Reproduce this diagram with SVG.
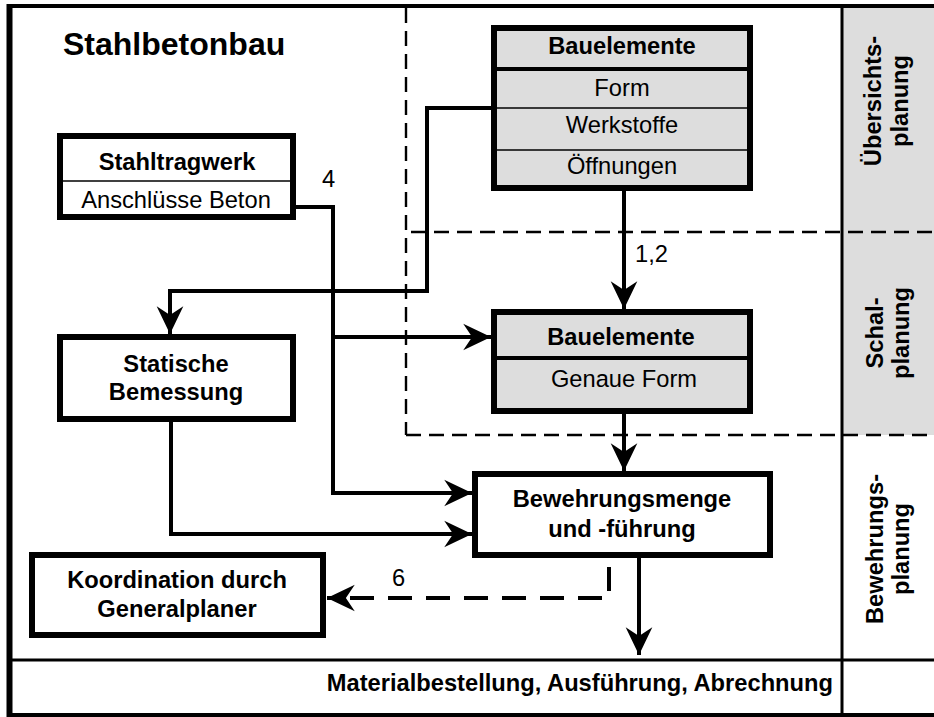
<svg xmlns="http://www.w3.org/2000/svg" width="934" height="717" viewBox="0 0 934 717">
  <defs>
    <marker id="arrow" markerUnits="userSpaceOnUse" markerWidth="30" markerHeight="30" viewBox="-26 -13 27 26" refX="0" refY="0" orient="auto">
      <path d="M0,0 L-25,-12 L-17,0 L-25,12 Z" fill="#000"/>
    </marker>
    <style>
      text { font-family: "Liberation Sans", Arial, sans-serif; font-size: 23.7px; fill: #000; }
      .b { font-weight: bold; }
      .c { text-anchor: middle; }
      .title { font-size: 32px; }
      .box { fill: #fff; stroke: #000; stroke-width: 6; }
      .gbox { fill: #dddddd; stroke: #000; stroke-width: 6; }
      .div-thick { stroke: #000; stroke-width: 4; }
      .div-thin { stroke: #000; stroke-width: 1.6; }
      .frame { stroke: #000; fill: none; }
      .zone { stroke: #000; stroke-width: 2.4; fill: none; stroke-dasharray: 15 8; }
      .conn { stroke: #000; stroke-width: 4; fill: none; }
      .dash { stroke-dasharray: 24 14; }
    </style>
  </defs>

  <rect x="0" y="0" width="934" height="717" fill="#fff"/>

  <!-- phase column on the right -->
  <g id="phases">
    <rect x="843" y="8" width="91" height="427" fill="#dddddd"/>
    <text class="b c" transform="translate(881,101) rotate(-90)">Übersichts-</text>
    <text class="b c" transform="translate(908,101) rotate(-90)">planung</text>
    <text class="b c" transform="translate(883,333) rotate(-90)">Schal-</text>
    <text class="b c" transform="translate(909,333) rotate(-90)">planung</text>
    <text class="b c" transform="translate(883,549) rotate(-90)">Bewehrungs-</text>
    <text class="b c" transform="translate(909,549) rotate(-90)">planung</text>
  </g>

  <!-- outer frame -->
  <g id="frame">
    <line class="frame" x1="9.5" y1="4" x2="9.5" y2="717" stroke-width="6"/>
    <line class="frame" x1="7" y1="6" x2="934" y2="6" stroke-width="4"/>
    <line class="frame" x1="7" y1="715" x2="934" y2="715" stroke-width="4"/>
    <line class="frame" x1="9" y1="660" x2="934" y2="660" stroke-width="3"/>
    <line class="frame" x1="842" y1="6" x2="842" y2="717" stroke-width="3"/>
  </g>

  <!-- dashed planning zones -->
  <g id="zones">
    <line class="zone" x1="406" y1="8" x2="406" y2="435"/>
    <line class="zone" x1="406" y1="435" x2="934" y2="435"/>
    <line class="zone" x1="411" y1="232" x2="934" y2="232"/>
  </g>

  <text class="b title" x="63" y="55">Stahlbetonbau</text>

  <!-- connectors -->
  <g id="connectors">
    <polyline class="conn" points="491,108 427,108 427,291 170,291 170,334" marker-end="url(#arrow)"/>
    <line class="conn" x1="624" y1="191" x2="624" y2="309" marker-end="url(#arrow)"/>
    <polyline class="conn" points="296,207 333,207 333,493 472,493" marker-end="url(#arrow)"/>
    <line class="conn" x1="333" y1="337" x2="491" y2="337" marker-end="url(#arrow)"/>
    <polyline class="conn" points="171,422 171,534 472,534" marker-end="url(#arrow)"/>
    <line class="conn" x1="624" y1="414" x2="624" y2="471" marker-end="url(#arrow)"/>
    <line class="conn" x1="639" y1="558" x2="639" y2="655" marker-end="url(#arrow)"/>
    <polyline class="conn dash" points="609,567 609,598 327,598" marker-end="url(#arrow)"/>
    <text x="322" y="187">4</text>
    <text x="635" y="262">1,2</text>
    <text x="392" y="586">6</text>
  </g>

  <g id="bauelemente-uebersicht">
    <rect class="gbox" x="494" y="28" width="256" height="160"/>
    <line class="div-thick" x1="494" y1="69" x2="750" y2="69"/>
    <line class="div-thin" x1="494" y1="108" x2="750" y2="108"/>
    <line class="div-thin" x1="494" y1="150" x2="750" y2="150"/>
    <text class="b c" x="622" y="54">Bauelemente</text>
    <text class="c" x="622" y="96">Form</text>
    <text class="c" x="622" y="133">Werkstoffe</text>
    <text class="c" x="622" y="174">Öffnungen</text>
  </g>

  <g id="bauelemente-schal">
    <rect class="gbox" x="494" y="312" width="256" height="99"/>
    <line class="div-thick" x1="494" y1="358" x2="750" y2="358"/>
    <text class="b c" x="621" y="345">Bauelemente</text>
    <text class="c" x="624" y="387">Genaue Form</text>
  </g>

  <g id="stahltragwerk">
    <rect class="box" x="60" y="136" width="233" height="81"/>
    <line class="div-thin" x1="60" y1="181" x2="293" y2="181" stroke-width="2"/>
    <text class="b c" x="177" y="170">Stahltragwerk</text>
    <text class="c" x="176" y="208">Anschlüsse Beton</text>
  </g>

  <g id="statische-bemessung">
    <rect class="box" x="60" y="337" width="233" height="82"/>
    <text class="b c" x="176" y="372">Statische</text>
    <text class="b c" x="176" y="400">Bemessung</text>
  </g>

  <g id="bewehrung">
    <rect class="box" x="475" y="474" width="295" height="81"/>
    <text class="b c" x="622" y="507">Bewehrungsmenge</text>
    <text class="b c" x="622" y="537">und -führung</text>
  </g>

  <g id="koordination">
    <rect class="box" x="32" y="555" width="291" height="80"/>
    <text class="b c" x="177" y="588">Koordination durch</text>
    <text class="b c" x="177" y="617">Generalplaner</text>
  </g>

  <g id="ausfuehrung">
    <text class="b" x="833" y="691" text-anchor="end">Materialbestellung, Ausführung, Abrechnung</text>
  </g>
</svg>
